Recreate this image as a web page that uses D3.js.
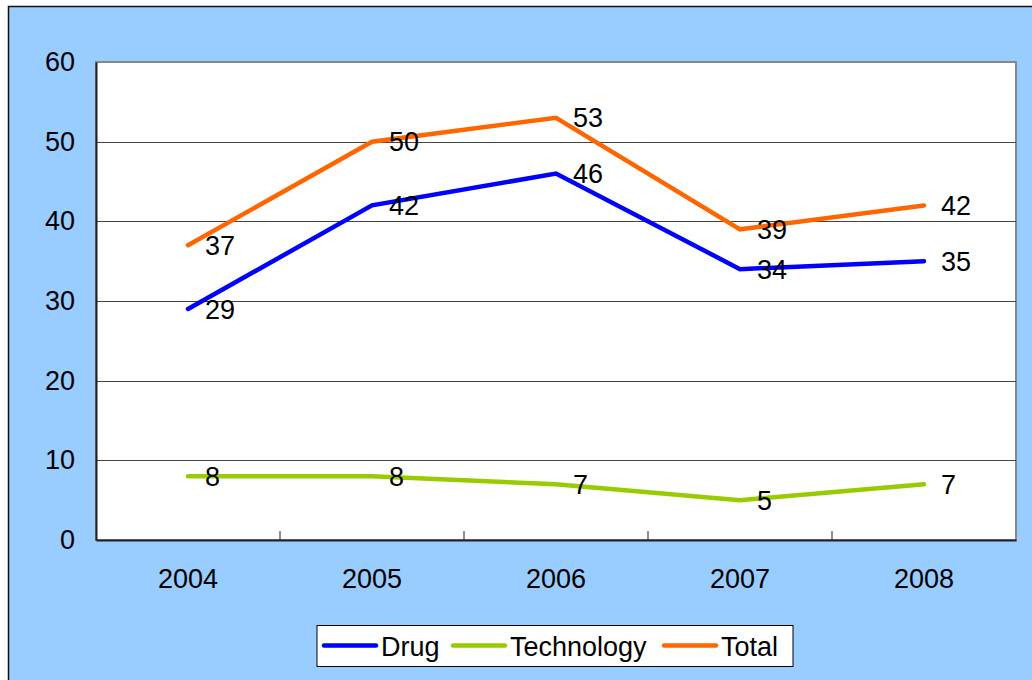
<!DOCTYPE html>
<html>
<head>
<meta charset="utf-8">
<script src="https://cdn.jsdelivr.net/npm/d3@7"></script>
<style>
  body { margin: 0; background: #fff; }
  svg text { font-family: "Liberation Sans", Arial, sans-serif; }
</style>
</head>
<body>
<div id="chart"></div>
<script>
// data
const years = ["2004", "2005", "2006", "2007", "2008"];
const drug = [29, 42, 46, 34, 35];
const technology = [8, 8, 7, 5, 7];
const total = [37, 50, 53, 39, 42];
const yTicks = [0, 10, 20, 30, 40, 50, 60];

const series = [
    { name: "Drug", values: drug, color: "#0000ff" },
    { name: "Technology", values: technology, color: "#99cc00" },
    { name: "Total", values: total, color: "#ff6600" }
];

const width = 1032, height = 680;
const plot = { left: 96, top: 62, right: 1016, bottom: 540 };
const fontSize = 27;

const svg = d3.select("#chart").append("svg")
    .attr("width", width).attr("height", height);

// chart background + outer border
svg.append("rect")
    .attr("x", 8.5).attr("y", 6.5)
    .attr("width", width + 10).attr("height", height + 10)
    .attr("fill", "#99ccff")
    .attr("stroke", "#111").attr("stroke-width", 1.5);

const x = d3.scaleBand().domain(years).range([plot.left, plot.right]);
const y = d3.scaleLinear().domain([0, 60]).range([plot.bottom, plot.top]);
const cx = d => x(d) + x.bandwidth() / 2;

// plot area
svg.append("rect")
    .attr("x", plot.left).attr("y", plot.top)
    .attr("width", plot.right - plot.left).attr("height", plot.bottom - plot.top)
    .attr("fill", "#fff")
    .attr("stroke", "#888").attr("stroke-width", 2);

// gridlines
svg.append("g").selectAll("line")
    .data(yTicks.filter(t => t > 0 && t < 60))
    .join("line")
    .attr("x1", plot.left).attr("x2", plot.right)
    .attr("y1", d => Math.round(y(d)) + 0.5).attr("y2", d => Math.round(y(d)) + 0.5)
    .attr("stroke", "#444").attr("stroke-width", 1);

// y axis
const yAxis = svg.append("g")
    .attr("transform", `translate(${plot.left},0)`)
    .call(d3.axisLeft(y).tickValues(yTicks).tickSize(0).tickPadding(21));
yAxis.select(".domain").attr("stroke", "#222").attr("stroke-width", 2);
yAxis.selectAll("text").attr("font-size", fontSize).attr("fill", "#000")
    .attr("font-family", "Liberation Sans, Arial, sans-serif");

// x axis with inside ticks between categories
const xAxis = svg.append("g")
    .attr("transform", `translate(0,${plot.bottom})`)
    .call(d3.axisBottom(x).tickSize(0).tickPadding(29));
xAxis.select(".domain").attr("stroke", "#222").attr("stroke-width", 2);
xAxis.selectAll("text").attr("font-size", fontSize).attr("fill", "#000")
    .attr("font-family", "Liberation Sans, Arial, sans-serif");

svg.append("g").selectAll("line")
    .data(years.slice(1))
    .join("line")
    .attr("x1", d => x(d)).attr("x2", d => x(d))
    .attr("y1", plot.bottom).attr("y2", plot.bottom - 9)
    .attr("stroke", "#222").attr("stroke-width", 1);

// lines
const line = d3.line().x((d, i) => cx(years[i])).y(d => y(d));

svg.append("g").selectAll("path")
    .data(series)
    .join("path")
    .attr("d", d => line(d.values))
    .attr("fill", "none")
    .attr("stroke", d => d.color)
    .attr("stroke-width", 4.5)
    .attr("stroke-linecap", "round")
    .attr("stroke-linejoin", "miter");

// value labels
series.forEach(s => {
    svg.append("g").selectAll("text")
        .data(s.values)
        .join("text")
        .attr("x", (d, i) => cx(years[i]) + 17)
        .attr("y", d => y(d))
        .attr("dy", "0.36em")
        .attr("font-size", fontSize)
        .attr("fill", "#000")
        .text(d => d);
});

// legend
const legend = svg.append("g");
legend.append("rect")
    .attr("x", 317).attr("y", 625.5)
    .attr("width", 476).attr("height", 41)
    .attr("fill", "#fff").attr("stroke", "#000").attr("stroke-width", 1);

const legendX = [324, 453, 664];
series.forEach((s, i) => {
    legend.append("line")
        .attr("x1", legendX[i]).attr("x2", legendX[i] + 52)
        .attr("y1", 645.5).attr("y2", 645.5)
        .attr("stroke", s.color).attr("stroke-width", 4.5)
        .attr("stroke-linecap", "round");
    legend.append("text")
        .attr("x", legendX[i] + 57).attr("y", 646)
        .attr("dy", "0.36em")
        .attr("font-size", fontSize)
        .attr("fill", "#000")
        .text(s.name);
});
</script>
</body>
</html>
